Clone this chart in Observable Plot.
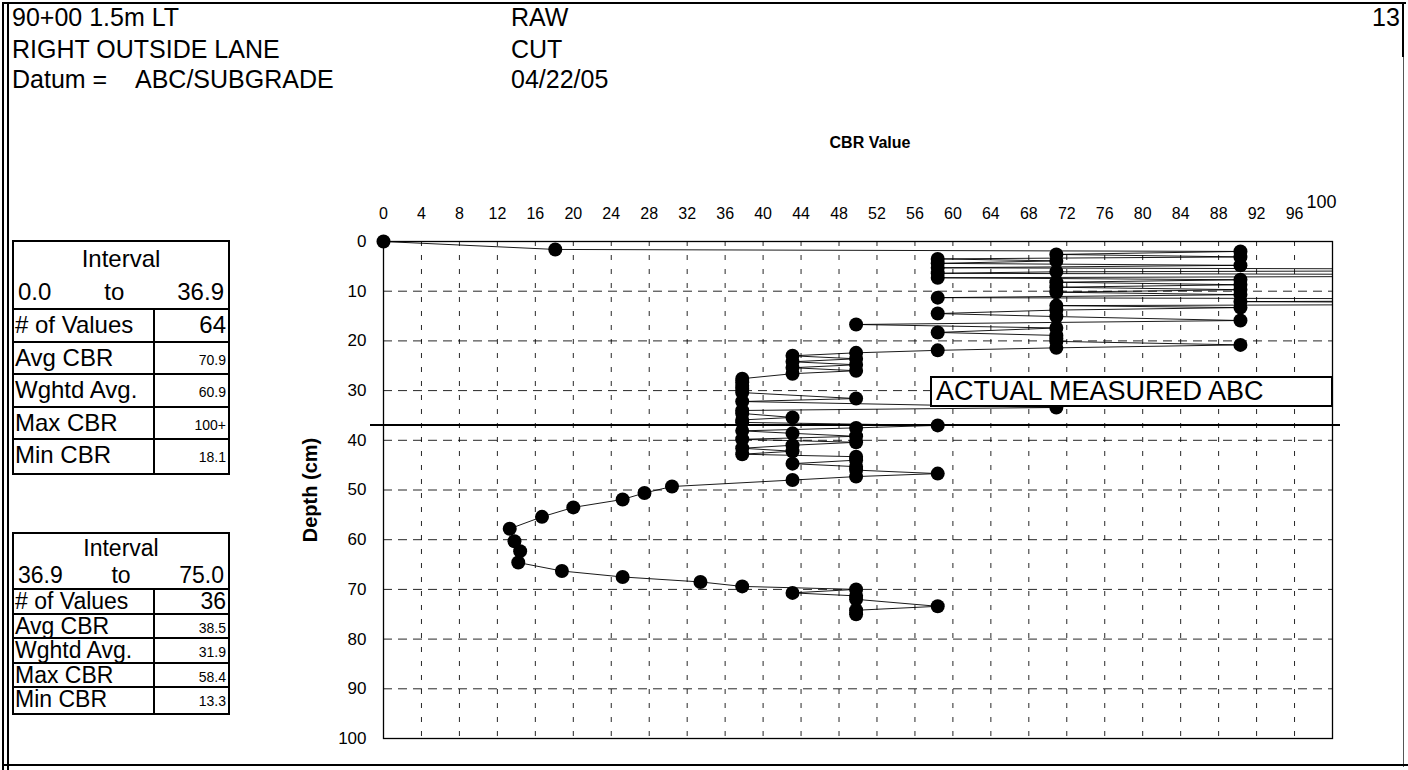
<!DOCTYPE html>
<html>
<head>
<meta charset="utf-8">
<script src="https://cdn.jsdelivr.net/npm/d3@7"></script>
<script src="https://cdn.jsdelivr.net/npm/@observablehq/plot@0.6"></script>
<style>
  html, body { margin: 0; padding: 0; background: #fff; }
  body { font-family: "Liberation Sans", Arial, Helvetica, sans-serif; color: #000; }
  #page { position: relative; width: 1408px; height: 770px; overflow: hidden; background: #fff; }
  .txt { position: absolute; font-size: 25px; line-height: 25px; white-space: nowrap; }
  .bline { position: absolute; background: #000; }
  .tbl { position: absolute; left: 12px; width: 218px; border: 2px solid #000; box-sizing: border-box; background: #fff; }
  .tbl .hdr { text-align: center; box-sizing: border-box; }
  .tbl .rng { display: flex; justify-content: space-between; padding: 0 4px 0 4px; box-sizing: border-box; border-bottom: 2px solid #000; }
  .tbl .row { display: grid; grid-template-columns: 141px auto; box-sizing: border-box; border-bottom: 2px solid #000; }
  .tbl .row:last-child { border-bottom: none; }
  .tbl .lab { padding-left: 1px; border-right: 2px solid #000; white-space: nowrap; }
  .tbl .val { text-align: right; padding-right: 2px; }
  #abc { position: absolute; left: 930px; top: 376px; width: 403px; height: 31px; border: 2px solid #000; box-sizing: border-box; background: #fff; font-size: 27px; line-height: 27px; padding-left: 4px; white-space: nowrap; }
  #chart { position: absolute; left: 280px; top: 130px; }
</style>
</head>
<body>
<div id="page">
  <div id="chart"></div>
</div>
<script>
// ---------- data ----------
const headerLeft = ["90+00 1.5m LT", "RIGHT OUTSIDE LANE", "Datum ="];
const datumValue = "ABC/SUBGRADE";
const headerMid = ["RAW", "CUT", "04/22/05"];
const pageNumber = "13";

const statLabels = ["# of Values", "Avg CBR", "Wghtd Avg.", "Max CBR", "Min CBR"];
const interval1Range = ["0.0", "to", "36.9"];
const interval1Stats = ["64", "70.9", "60.9", "100+", "18.1"];
const interval2Range = ["36.9", "to", "75.0"];
const interval2Stats = ["36", "38.5", "31.9", "58.4", "13.3"];

const abcDepth = 36.9;
const abcLabel = "ACTUAL MEASURED ABC";

const xTickLabels = [0, 4, 8, 12, 16, 20, 24, 28, 32, 36, 40, 44, 48, 52, 56, 60, 64, 68, 72, 76, 80, 84, 88, 92, 96];
const xLastLabel = [100];
const xGridTicks = [4, 8, 12, 16, 20, 24, 28, 32, 36, 40, 44, 48, 52, 56, 60, 64, 68, 72, 76, 80, 84, 88, 92, 96];
const yTicks = [0, 10, 20, 30, 40, 50, 60, 70, 80, 90, 100];
const yGridTicks = [10, 20, 30, 40, 50, 60, 70, 80, 90];

// depth (cm) of each reading, top to bottom
const depthCm = [
  0, 1.6, 2.0, 2.6, 3.1, 3.5, 3.9, 4.4, 4.8, 5.3,
  5.7, 6.1, 6.4, 6.8, 7.3, 7.7, 8.2, 8.7, 9.2, 9.7,
  10.2, 10.7, 11.3, 11.7, 12.1, 12.5, 12.9, 13.3, 13.8, 14.5,
  15.1, 15.9, 16.7, 17.4, 18.3, 18.9, 19.5, 20.1, 20.8, 21.4,
  21.9, 22.4, 23.0, 23.6, 24.2, 24.8, 25.4, 26.0, 26.6, 27.6,
  28.3, 29.0, 29.7, 30.4, 31.6, 32.2, 33.4, 34.0, 34.6, 35.4,
  35.9, 36.4,
  37.0, 37.5, 38.1, 38.6, 39.2, 39.8, 40.4, 41.0, 41.6, 42.2,
  42.8, 43.3, 44.0, 44.7, 45.3, 46.0, 46.7, 47.3, 48.0, 49.3,
  50.6, 51.9, 53.5, 55.4, 57.8, 60.3, 62.3, 64.6, 66.3, 67.5,
  68.5, 69.4, 70.0, 70.7, 71.3, 72.0, 73.4, 74.2, 75.0
];
// CBR value of each reading (values above 100 run off the chart)
const cbrValue = [
  0, 18.1, 90.3, 70.9, 90.3, 58.4, 70.9, 58.4, 90.3, 58.4,
  150, 70.9, 58.4, 150, 58.4, 90.3, 70.9, 90.3, 70.9, 90.3,
  70.9, 90.3, 58.4, 150, 90.3, 150, 70.9, 90.3, 70.9, 58.4,
  70.9, 90.3, 49.8, 70.9, 58.4, 70.9, 70.9, 70.9, 90.3, 70.9,
  58.4, 49.8, 43.1, 49.8, 43.1, 49.8, 43.1, 49.8, 43.1, 37.8,
  37.8, 37.8, 37.8, 37.8, 49.8, 37.8, 70.9, 37.8, 37.8, 43.1,
  37.8, 37.8,
  58.4, 49.8, 37.8, 43.1, 49.8, 37.8, 49.8, 43.1, 37.8, 43.1,
  37.8, 49.8, 49.8, 43.1, 49.8, 49.8, 58.4, 49.8, 43.1, 30.4,
  27.5, 25.2, 20.0, 16.7, 13.3, 13.8, 14.4, 14.2, 18.8, 25.2,
  33.4, 37.8, 49.8, 43.1, 49.8, 49.8, 58.4, 49.8, 49.8
];

// ---------- page texts ----------
const page = document.getElementById("page");
function addText(str, left, top, extra) {
  const d = document.createElement("div");
  d.className = "txt";
  d.textContent = str;
  d.style.left = left + "px";
  d.style.top = top + "px";
  if (extra) Object.assign(d.style, extra);
  page.appendChild(d);
  return d;
}
function addLine(left, top, w, h, color) {
  const d = document.createElement("div");
  d.className = "bline";
  Object.assign(d.style, {left: left + "px", top: top + "px", width: w + "px", height: h + "px"});
  if (color) d.style.background = color;
  page.appendChild(d);
}
// outer frame
addLine(2, 2, 1404, 2);
addLine(2, 2, 2, 768);
addLine(7, 4, 1.5, 766);
addLine(1402, 2, 2, 55);
addLine(1403, 57, 1, 710, "#555");
addLine(2, 764, 1406, 2);

const rowsTop = [5, 37, 67];
headerLeft.forEach((s, i) => addText(s, 12, rowsTop[i]));
addText(datumValue, 135, rowsTop[2]);
headerMid.forEach((s, i) => addText(s, 511, rowsTop[i]));
addText(pageNumber, 1372, rowsTop[0]);

function addTable(top, range, stats, hdrH, dataH, fs) {
  const t = document.createElement("div");
  t.className = "tbl";
  t.style.top = top + "px";
  const h = document.createElement("div");
  h.className = "hdr"; h.textContent = "Interval";
  Object.assign(h.style, {height: hdrH + "px", lineHeight: hdrH + "px", fontSize: fs + "px"});
  t.appendChild(h);
  const r = document.createElement("div");
  r.className = "rng";
  Object.assign(r.style, {height: hdrH + "px", lineHeight: (hdrH - 2) + "px", fontSize: fs + "px"});
  range.forEach(s => { const sp = document.createElement("span"); sp.textContent = s; r.appendChild(sp); });
  t.appendChild(r);
  statLabels.forEach((lab, i) => {
    const row = document.createElement("div");
    row.className = "row";
    row.style.height = dataH + "px";
    const a = document.createElement("div"); a.className = "lab"; a.textContent = lab;
    a.style.lineHeight = (dataH - 2) + "px";
    a.style.fontSize = fs + "px";
    const b = document.createElement("div"); b.className = "val"; b.textContent = stats[i];
    b.style.fontSize = i === 0 ? fs + "px" : "14px";
    b.style.lineHeight = (i === 0 ? dataH - 2 : dataH + 2) + "px";
    row.appendChild(a); row.appendChild(b);
    t.appendChild(row);
  });
  page.appendChild(t);
}
addTable(240, interval1Range, interval1Stats, 34, 32.5, 24);
addTable(532, interval2Range, interval2Stats, 28, 24.5, 23);

// ---------- chart ----------
const points = depthCm.map((d, i) => ({depth: d, cbr: cbrValue[i]}));
const chart = Plot.plot({
  width: 1128,
  height: 640,
  marginLeft: 103,
  marginRight: 76,
  marginTop: 111,
  marginBottom: 32,
  style: {fontFamily: "'Liberation Sans', Arial, sans-serif", background: "transparent", color: "#000"},
  x: {domain: [0, 100], axis: null},
  y: {domain: [0, 100], reverse: true, axis: null},
  marks: [
    Plot.gridX(xGridTicks, {stroke: "#000", strokeOpacity: 0.85, strokeWidth: 1, strokeDasharray: "5,9"}),
    Plot.gridY(yGridTicks, {stroke: "#000", strokeOpacity: 0.85, strokeWidth: 1, strokeDasharray: "9,6"}),
    Plot.frame({stroke: "#000", strokeWidth: 1.3}),
    Plot.axisX(xTickLabels, {anchor: "top", tickSize: 0, tickPadding: 23, fontSize: 16, label: null}),
    Plot.text(xLastLabel, {x: d => d, text: d => String(d), frameAnchor: "top", dy: -46, dx: -11, fontSize: 18, lineAnchor: "top"}),
    Plot.axisY(yTicks, {anchor: "left", tickSize: 0, tickPadding: 17, fontSize: 17, label: null}),
    Plot.text(["Depth (cm)"], {text: d => d, frameAnchor: "left", rotate: -90, dx: -73, textAnchor: "middle", fontWeight: "bold", fontSize: 20}),
    Plot.text(["CBR Value"], {text: d => d, frameAnchor: "top", dy: -105, dx: 12, fontWeight: "bold", fontSize: 16}),
    Plot.ruleY([abcDepth], {stroke: "#000", strokeWidth: 2, insetLeft: -13, insetRight: -8}),
    Plot.line(points, {x: "cbr", y: "depth", stroke: "#000", strokeWidth: 0.9, clip: true}),
    Plot.dot(points, {x: "cbr", y: "depth", r: 7, fill: "#000", stroke: "none", filter: d => d.cbr <= 100})
  ]
});
document.getElementById("chart").appendChild(chart);

const box = document.createElement("div");
box.id = "abc";
box.textContent = abcLabel;
page.appendChild(box);
</script>
</body>
</html>
